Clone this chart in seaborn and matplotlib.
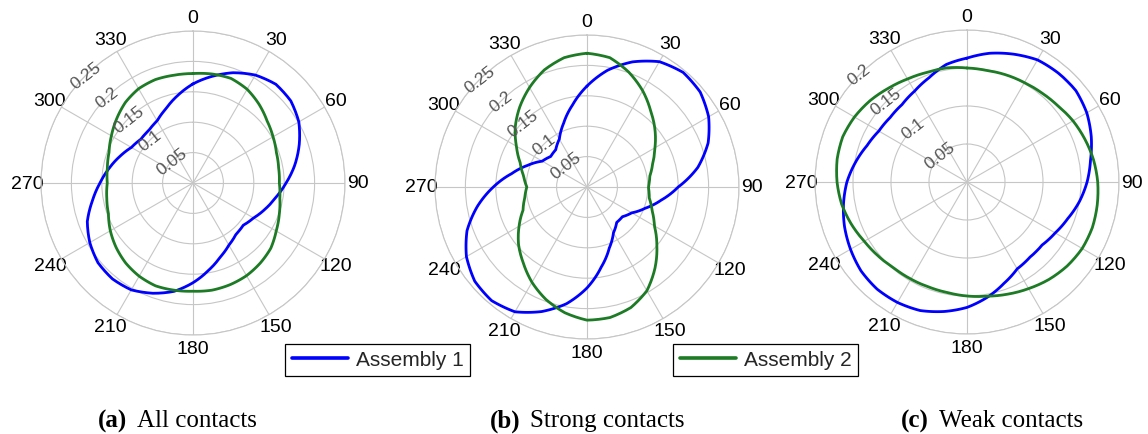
import numpy as np
import pandas as pd
import matplotlib
matplotlib.use("Agg")
import matplotlib.pyplot as plt
import seaborn as sns
from matplotlib.lines import Line2D
from matplotlib.offsetbox import TextArea, HPacker, AnchoredOffsetbox

# ---------------- data (every 10 degrees) ----------------
angles_deg = [0, 10, 20, 30, 40, 50, 60, 70, 80, 90, 100, 110,
              120, 130, 140, 150, 160, 170, 180, 190, 200, 210, 220, 230,
              240, 250, 260, 270, 280, 290, 300, 310, 320, 330, 340, 350]

all_assembly1 = [0.163, 0.178, 0.193, 0.205, 0.212, 0.210, 0.201, 0.186,
                 0.170, 0.153, 0.138, 0.126, 0.115, 0.108, 0.110, 0.118,
                 0.130, 0.146, 0.164, 0.181, 0.193, 0.203, 0.206, 0.204,
                 0.196, 0.185, 0.168, 0.153, 0.140, 0.128, 0.117, 0.112,
                 0.113, 0.118, 0.130, 0.146]
all_assembly2 = [0.180, 0.182, 0.183, 0.178, 0.169, 0.159, 0.152, 0.146,
                 0.143, 0.142, 0.145, 0.151, 0.158, 0.167, 0.172, 0.176,
                 0.178, 0.179, 0.178, 0.179, 0.180, 0.177, 0.172, 0.165,
                 0.157, 0.148, 0.144, 0.141, 0.143, 0.147, 0.155, 0.164,
                 0.173, 0.179, 0.181, 0.180]

strong_assembly1 = [0.166, 0.195, 0.219, 0.238, 0.246, 0.243, 0.231, 0.212,
                    0.185, 0.150, 0.124, 0.102, 0.085, 0.076, 0.076, 0.087,
                    0.107, 0.134, 0.166, 0.195, 0.218, 0.237, 0.244, 0.241,
                    0.229, 0.210, 0.183, 0.154, 0.126, 0.104, 0.085, 0.078,
                    0.080, 0.091, 0.112, 0.137]
strong_assembly2 = [0.220, 0.216, 0.201, 0.183, 0.163, 0.146, 0.129, 0.115,
                    0.105, 0.101, 0.104, 0.114, 0.128, 0.150, 0.174, 0.197,
                    0.211, 0.218, 0.219, 0.210, 0.197, 0.181, 0.163, 0.147,
                    0.129, 0.112, 0.104, 0.099, 0.106, 0.117, 0.134, 0.154,
                    0.172, 0.189, 0.205, 0.216]

weak_assembly1 = [0.163, 0.172, 0.179, 0.1855, 0.187, 0.187, 0.182, 0.174,
                  0.165, 0.158, 0.150, 0.141, 0.134, 0.129, 0.129, 0.132,
                  0.142, 0.154, 0.165, 0.173, 0.180, 0.183, 0.184, 0.182,
                  0.177, 0.1715, 0.165, 0.158, 0.149, 0.140, 0.134, 0.132,
                  0.133, 0.138, 0.146, 0.157]
weak_assembly2 = [0.150, 0.149, 0.150, 0.151, 0.153, 0.156, 0.161, 0.165,
                  0.169, 0.172, 0.174, 0.1755, 0.175, 0.172, 0.1675, 0.162,
                  0.157, 0.1525, 0.150, 0.1477, 0.147, 0.1475, 0.1485, 0.152,
                  0.156, 0.162, 0.1675, 0.171, 0.1735, 0.174, 0.171, 0.1665,
                  0.161, 0.1565, 0.1535, 0.1525]

series_names = ["Assembly 1", "Assembly 2"]
theta_tick_labels = ["0", "30", "60", "90", "120", "150",
                     "180", "210", "240", "270", "300", "330"]
caption_tags = ["(a)", "(b)", "(c)"]
caption_texts = ["All contacts", "Strong contacts", "Weak contacts"]
r_max = [0.25, 0.25, 0.20]

# ---------------- style ----------------
sns.set_theme(style="white")
plt.rcParams["font.family"] = ["Liberation Sans", "DejaVu Sans"]

BLUE = "#0000ff"
GREEN = "#1c7b24"
GRID = "#c6c6c6"
palette = {"Assembly 1": BLUE, "Assembly 2": GREEN}

fig = plt.figure(figsize=(11.48, 4.35), dpi=100)
W, H = 1148, 435
R_PX = 152
centers = [(193, 184), (587, 188), (967, 183)]
caption_x = [177, 587, 992]

panel_data = [(all_assembly1, all_assembly2),
              (strong_assembly1, strong_assembly2),
              (weak_assembly1, weak_assembly2)]

for i, ((s1, s2), rm, (cx, cy)) in enumerate(zip(panel_data, r_max, centers)):
    rect = [(cx - R_PX) / W, (H - cy - R_PX) / H, 2 * R_PX / W, 2 * R_PX / H]
    ax = fig.add_axes(rect, projection="polar")
    ax.set_theta_zero_location("N")
    ax.set_theta_direction(-1)

    th = np.deg2rad(angles_deg + [360])
    df = pd.concat([
        pd.DataFrame({"theta": th, "r": s1 + [s1[0]], "series": series_names[0]}),
        pd.DataFrame({"theta": th, "r": s2 + [s2[0]], "series": series_names[1]}),
    ], ignore_index=True)
    sns.lineplot(data=df, x="theta", y="r", hue="series", palette=palette,
                 estimator=None, sort=False, legend=False, linewidth=2.0,
                 ax=ax)
    # let the polar transform draw each segment as a curve in (theta, r)
    for ln in ax.lines:
        ln.get_path()._interpolation_steps = 20
    ax.set_xlabel("")
    ax.set_ylabel("")

    ax.set_ylim(0, rm)
    rticks = np.round(np.arange(0.05, rm + 1e-9, 0.05), 2)
    ax.set_yticks(rticks)
    ax.set_yticklabels([])
    ax.set_xticks(np.deg2rad(np.arange(0, 360, 30)))
    ax.set_xticklabels(theta_tick_labels, fontsize=14, color="black")
    ax.tick_params(axis="x", pad=-3.5)
    ax.grid(True, color=GRID, linewidth=0.8)
    ax.spines["polar"].set_color(GRID)
    ax.spines["polar"].set_linewidth(0.8)
    ax.set_facecolor("white")

    for v in rticks:
        ax.text(np.deg2rad(315), v, f"{v:g}", rotation=38,
                ha="center", va="center", fontsize=12.5, color="#555555")

    # caption
    tag = TextArea(caption_tags[i], textprops=dict(
        family=["Liberation Serif", "DejaVu Serif"], fontsize=18,
        fontweight="bold", color="black"))
    txt = TextArea(caption_texts[i], textprops=dict(
        family=["Liberation Serif", "DejaVu Serif"], fontsize=18,
        color="black"))
    box = HPacker(children=[tag, txt], align="baseline", pad=0, sep=7)
    anc = AnchoredOffsetbox(loc="center", child=box, pad=0, borderpad=0,
                            frameon=False,
                            bbox_to_anchor=(caption_x[i] / W, 1 - 421 / H),
                            bbox_transform=fig.transFigure)
    fig.add_artist(anc)

# legends (two separate boxes)
leg_kw = dict(loc="center", fontsize=15, frameon=True, fancybox=False,
              edgecolor="black", framealpha=1, borderpad=0.3,
              handlelength=2.72, handletextpad=0.35, borderaxespad=0)
for name, col, xc in [(series_names[0], BLUE, 377.5),
                      (series_names[1], GREEN, 765.5)]:
    h = Line2D([], [], color=col, linewidth=2.6)
    lg = fig.legend([h], [name], bbox_to_anchor=(xc / W, 1 - 361 / H),
                    bbox_transform=fig.transFigure, **leg_kw)
    lg.get_frame().set_linewidth(0.9)

fig.savefig("out.png", dpi=100, facecolor="white")
